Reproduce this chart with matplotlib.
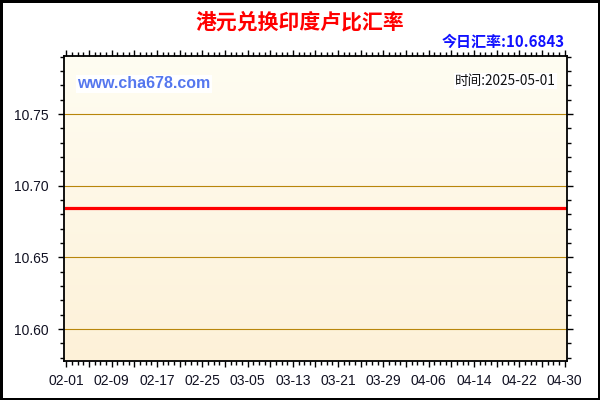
import datetime as dt

import matplotlib
matplotlib.use("Agg")
import matplotlib.dates as mdates
import matplotlib.pyplot as plt
import numpy as np
from matplotlib.ticker import FixedLocator, MultipleLocator

# data
tick_labels = ["02-01", "02-09", "02-17", "02-25", "03-05", "03-13",
               "03-21", "03-29", "04-06", "04-14", "04-22", "04-30"]
dates = ["2025-02-01", "2025-02-09", "2025-02-17", "2025-02-25", "2025-03-05",
         "2025-03-13", "2025-03-21", "2025-03-29", "2025-04-06", "2025-04-14",
         "2025-04-22", "2025-04-30"]
rates = [10.6843, 10.6843, 10.6843, 10.6843, 10.6843, 10.6843,
         10.6843, 10.6843, 10.6843, 10.6843, 10.6843, 10.6843]
today_rate = "10.6843"
today = "2025-05-01"

cjk = ["Noto Sans CJK SC", "DejaVu Sans"]
plt.rcParams["font.family"] = ["Liberation Sans", "DejaVu Sans"]

x = [mdates.date2num(dt.date.fromisoformat(d)) for d in dates]

fig = plt.figure(figsize=(6, 4), dpi=100)
fig.patch.set_facecolor("white")
fig.patch.set_edgecolor("black")
fig.patch.set_linewidth(2.5)

ax = fig.add_axes([64 / 600, 1 - 361 / 400, (567 - 64) / 600, (361 - 56) / 400])

# cream vertical gradient background
grad = np.linspace(0, 1, 256).reshape(-1, 1)
top = np.array([0xFF, 0xFD, 0xF2]) / 255
bot = np.array([0xFD, 0xF1, 0xD8]) / 255
img = top + (bot - top) * grad[:, :, None]
ax.imshow(img, extent=[0, 1, 0, 1], transform=ax.transAxes, aspect="auto",
          origin="upper", zorder=0)

ax.plot(x, rates, color="#ff0000", linewidth=2.3, zorder=3)

ax.set_xlim(x[0] - 0.4, x[-1] + 0.4)
ax.set_ylim(10.5777, 10.7905)

ax.yaxis.set_major_locator(MultipleLocator(0.05))
ax.yaxis.set_minor_locator(MultipleLocator(0.01))
ax.yaxis.set_major_formatter(plt.FormatStrFormatter("%.2f"))

major_x = np.arange(x[0], x[-1] + 0.5, 4)
ax.xaxis.set_major_locator(FixedLocator(major_x))
ax.xaxis.set_minor_locator(MultipleLocator(1))
lab_iter = iter(tick_labels)
ax.set_xticklabels([next(lab_iter) if i % 2 == 0 else "" for i in range(len(major_x))])

ax.grid(axis="y", which="major", color="#b8860b", linewidth=0.8, zorder=1)
ax.set_axisbelow(False)

for s in ax.spines.values():
    s.set_color("black")
    s.set_linewidth(1.3)
    s.set_zorder(5)

ax.tick_params(which="both", direction="out", top=True, right=True,
               colors="black", width=1.0, labelcolor="#111122", labelsize=10)
ax.tick_params(which="major", length=4)
ax.tick_params(which="minor", length=3)
ax.tick_params(axis="x", pad=5.5)
ax.tick_params(axis="y", pad=7)

fig.text(0.5, 1 - 22 / 400, "港元兑换印度卢比汇率", ha="center", va="center",
         fontsize=15, fontweight="bold", color="#ff0000", family=cjk)
fig.text(565 / 600, 1 - 42 / 400, "今日汇率:" + today_rate, ha="right", va="center",
         fontsize=10.8, fontweight="bold", color="#1010ff", family=cjk)

ax.text(77 / 600, 1 - 84 / 400, "www.cha678.com", transform=fig.transFigure,
        ha="left", va="center", fontsize=11.5, fontweight="bold", color="#5577ee",
        bbox=dict(facecolor="white", edgecolor="none", pad=1), zorder=6)
ax.text(556 / 600, 1 - 81 / 400, "时间:" + today, transform=fig.transFigure,
        ha="right", va="center", fontsize=9.8, color="#111111", family=cjk,
        bbox=dict(facecolor="white", edgecolor="none", pad=1), zorder=6)

fig.savefig("out.png", dpi=100, facecolor="white", edgecolor="black")
